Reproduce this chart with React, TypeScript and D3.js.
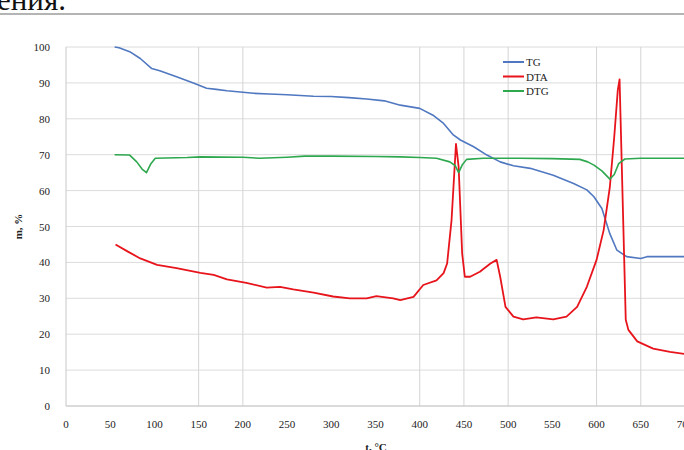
import * as d3 from "d3";
import React from "react";

// temperature (°C) and value (%) for each curve
const tgT = [55, 60, 72, 84, 97, 106, 125, 144, 159, 170, 182, 200, 212, 230, 250, 280, 300, 320, 340, 360, 378, 400, 415, 427, 438, 446, 461, 476, 491, 506, 525, 551, 574, 589, 597, 606, 615, 623, 634, 650, 657, 700];
const tgV = [100, 99.8, 98.7, 96.8, 94, 93.4, 91.7, 90, 88.5, 88.2, 87.8, 87.4, 87.1, 86.9, 86.7, 86.3, 86.2, 85.9, 85.5, 85, 83.8, 82.9, 81, 78.7, 75.5, 74.1, 72.2, 69.9, 68, 66.9, 66.2, 64.3, 62, 60.2, 58.3, 55, 48, 43.4, 41.6, 41.1, 41.6, 41.6];

const dtaT = [56, 70, 84, 103, 125, 152, 167, 182, 204, 227, 242, 257, 280, 302, 321, 340, 351, 370, 378, 393, 404, 419, 427, 431, 436, 441, 444, 448, 451, 457, 468, 480, 487, 491, 497, 506, 517, 532, 551, 566, 578, 589, 600, 608, 615, 620, 624, 626, 633, 636, 646, 664, 683, 700];
const dtaV = [45, 43, 41.1, 39.3, 38.4, 37.1, 36.5, 35.3, 34.3, 33, 33.2, 32.5, 31.6, 30.5, 30, 30, 30.6, 30, 29.5, 30.4, 33.7, 35, 37, 39.7, 51.8, 73, 66.7, 42.5, 36, 36, 37.4, 39.7, 40.7, 36, 27.6, 24.9, 24.1, 24.7, 24.1, 24.9, 27.6, 33.2, 40.7, 49, 61, 75, 88, 91, 24, 21.2, 18, 16, 15.1, 14.5];

const dtgT = [55, 72, 80, 86, 91, 96, 101, 137, 152, 200, 219, 250, 270, 300, 350, 378, 400, 419, 434, 440, 444, 448, 453, 472, 513, 550, 581, 590, 597, 606, 615, 620, 625, 632, 650, 700];
const dtgV = [70, 69.9, 68, 66, 65, 67.5, 69, 69.2, 69.4, 69.3, 69, 69.3, 69.6, 69.6, 69.5, 69.4, 69.2, 69, 68, 67, 65, 67.1, 68.7, 69, 69, 68.9, 68.7, 68, 67.1, 65.5, 63.2, 64.5, 67.5, 68.8, 69, 69];

const xTicks = [0, 50, 100, 150, 200, 250, 300, 350, 400, 450, 500, 550, 600, 650, 700];
const yTicks = [0, 10, 20, 30, 40, 50, 60, 70, 80, 90, 100];
const xGrid = [150, 200, 400, 450, 500, 600, 650];

const series = [
  { name: "TG", t: tgT, v: tgV, color: "#5078c0", w: 1.6 },
  { name: "DTA", t: dtaT, v: dtaV, color: "#e8141c", w: 1.8 },
  { name: "DTG", t: dtgT, v: dtgV, color: "#2ea84e", w: 1.6 },
];

export default function App() {
  const width = 684;
  const height = 450;
  const x = d3.scaleLinear().domain([0, 700]).range([66, 685]);
  const y = d3.scaleLinear().domain([0, 100]).range([406, 47]);
  const font = "'Liberation Serif', 'Times New Roman', serif";

  const line = d3
    .line<[number, number]>()
    .x((d) => x(d[0]))
    .y((d) => y(d[1]));

  return (
    <svg
      width={width}
      height={height}
      style={{ position: "absolute", left: 0, top: 0, background: "#fff" }}
      fontFamily={font}
    >
      {/* bit of page text above the figure */}
      <text x={-3} y={10} fontSize={31} fill="#111">ения.</text>
      <line x1={0} x2={width} y1={14} y2={14} stroke="#b4b4b4" strokeWidth={2} />

      {yTicks.map((t) => (
        <line key={"gy" + t} x1={x(0)} x2={width} y1={y(t)} y2={y(t)} stroke="#dcdcdc" strokeWidth={1} />
      ))}
      {xGrid.map((t) => (
        <line key={"gx" + t} x1={x(t)} x2={x(t)} y1={y(100)} y2={y(0)} stroke="#d4d4d4" strokeWidth={1} />
      ))}
      <line x1={x(0)} x2={x(0)} y1={y(100)} y2={y(0)} stroke="#c8c8c8" />
      <line x1={x(0)} x2={width} y1={y(0)} y2={y(0)} stroke="#c8c8c8" />

      {yTicks.map((t) => (
        <text key={"ly" + t} x={50} y={y(t) + 4} fontSize={11} textAnchor="end" fill="#222">
          {t}
        </text>
      ))}
      {xTicks.map((t) => (
        <text key={"lx" + t} x={x(t)} y={428} fontSize={11} textAnchor="middle" fill="#222">
          {t}
        </text>
      ))}

      <text transform={`translate(22,${y(50)}) rotate(-90)`} fontSize={11} fontWeight="bold" textAnchor="middle" fill="#222">
        m, %
      </text>
      <text x={376} y={451} fontSize={11} fontWeight="bold" textAnchor="middle" fill="#222">
        t, °C
      </text>

      {series.map((s) => (
        <path
          key={s.name}
          d={line(s.t.map((t, i) => [t, s.v[i]] as [number, number])) || ""}
          fill="none"
          stroke={s.color}
          strokeWidth={s.w}
          strokeLinejoin="round"
        />
      ))}

      {series.map((s, i) => (
        <g key={"lg" + s.name} transform={`translate(503,${62 + i * 14.5})`}>
          <line x1={0} x2={21} y1={0} y2={0} stroke={s.color} strokeWidth={2} />
          <text x={23} y={4} fontSize={11} fill="#222">
            {s.name}
          </text>
        </g>
      ))}
    </svg>
  );
}
